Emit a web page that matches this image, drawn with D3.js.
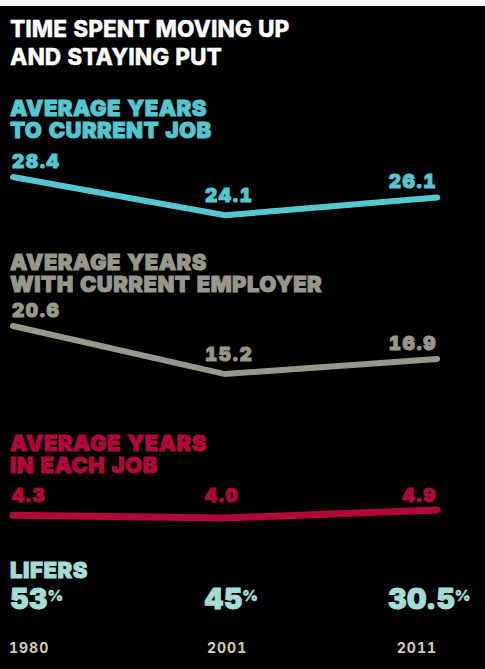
<!DOCTYPE html>
<html>
<head>
<meta charset="utf-8">
<script src="https://cdn.jsdelivr.net/npm/d3@7"></script>
<style>
  html, body { margin: 0; padding: 0; background: #fff; }
  svg { display: block; }
  text { font-family: "Inter", "DejaVu Sans", sans-serif; font-variant-numeric: tabular-nums; }
</style>
</head>
<body>
<div id="chart"></div>
<script>
// Data
const years = ["1980", "2001", "2011"];
const toCurrentJob = [28.4, 24.1, 26.1];
const withEmployer = [20.6, 15.2, 16.9];
const inEachJob = [4.3, 4.0, 4.9];
const lifers = [53, 45, 30.5];

const width = 485;
const height = 669;

const svg = d3.select("#chart")
  .append("svg")
  .attr("width", width)
  .attr("height", height);

// black panel under a thin white strip
svg.append("rect")
  .attr("x", 0).attr("y", 6)
  .attr("width", width).attr("height", height - 6)
  .attr("fill", "#000");

// title
["TIME SPENT MOVING UP", "AND STAYING PUT"].forEach((t, i) => {
  svg.append("text")
    .attr("x", 10).attr("y", 37 + i * 28)
    .attr("fill", "#fff")
    .attr("stroke", "#fff")
    .attr("stroke-width", 0.3)
    .attr("font-size", 22.7)
    .attr("font-weight", 800)
    .text(t);
});

const x = d3.scalePoint().domain(years).range([13, 437]);

// pixels per year, shared by the three line panels
const k = 8.9;

const panels = [
  { lines: ["AVERAGE YEARS", "TO CURRENT JOB"], values: toCurrentJob, color: "#55c6cf", head: 116, top: 177, row: null, sw: 6 },
  { lines: ["AVERAGE YEARS", "WITH CURRENT EMPLOYER"], values: withEmployer, color: "#97978b", head: 270, top: 326, row: null, sw: 6 },
  { lines: ["AVERAGE YEARS", "IN EACH JOB"], values: inEachJob, color: "#b0083a", head: 451, top: 510, row: 502, sw: 7 }
];

panels.forEach(p => {
  const max = d3.max(p.values);
  const y = d3.scaleLinear().domain([max, max - 10]).range([p.top, p.top + 10 * k]);

  const g = svg.append("g");

  p.lines.forEach((l, i) => {
    g.append("text")
      .attr("x", 10).attr("y", p.head + i * 22)
      .attr("fill", p.color)
      .attr("stroke", p.color)
      .attr("stroke-width", 0.9)
      .attr("font-size", 22)
      .attr("font-weight", 900)
      .attr("letter-spacing", 0.45)
      .text(l);
  });

  const line = d3.line()
    .x((d, i) => x(years[i]))
    .y(d => y(d));

  g.append("path")
    .datum(p.values)
    .attr("d", line)
    .attr("fill", "none")
    .attr("stroke", p.color)
    .attr("stroke-width", p.sw)
    .attr("stroke-linecap", "round")
    .attr("stroke-linejoin", "miter");

  g.selectAll(".val")
    .data(p.values)
    .enter()
    .append("text")
    .attr("class", "val")
    .attr("x", (d, i) => i === 0 ? x(years[i]) - 1 : i === 1 ? x(years[i]) - 20 : x(years[i]))
    .attr("y", (d, i) => p.row !== null ? p.row : y(d) - (i === 1 ? 13 : 9))
    .attr("text-anchor", (d, i) => i === 2 ? "end" : "start")
    .attr("fill", p.color)
    .attr("stroke", p.color)
    .attr("stroke-width", 0.9)
    .attr("font-size", 19)
    .attr("font-weight", 900)
    .attr("letter-spacing", 1.6)
    .text(d => d.toFixed(1));
});

// lifers
const liferColor = "#a6dcd6";
svg.append("text")
  .attr("x", 10).attr("y", 578)
  .attr("fill", liferColor)
  .attr("stroke", liferColor)
  .attr("stroke-width", 0.9)
  .attr("font-size", 22)
  .attr("font-weight", 900)
  .attr("letter-spacing", 0.6)
  .text("LIFERS");

const lx = [10, 204, 388];
const lt = svg.selectAll(".lifer")
  .data(lifers)
  .enter()
  .append("text")
  .attr("class", "lifer")
  .attr("x", (d, i) => lx[i])
  .attr("y", 609)
  .attr("fill", liferColor)
  .attr("stroke", liferColor)
  .attr("stroke-width", 1)
  .attr("font-size", 28)
  .attr("font-weight", 900)
  .style("font-variant-numeric", "normal");
lt.append("tspan").text(d => d);
lt.append("tspan")
  .attr("font-size", 15)
  .attr("stroke-width", 0.3)
  .attr("dy", -8)
  .text("%");

// year labels
svg.selectAll(".year")
  .data(years)
  .enter()
  .append("text")
  .attr("class", "year")
  .attr("x", (d, i) => i === 0 ? x(d) - 4 : i === 1 ? x(d) - 18 : x(d))
  .attr("y", 653)
  .attr("text-anchor", (d, i) => i === 2 ? "end" : "start")
  .attr("fill", "#d3cdbc")
  .attr("font-size", 14)
  .attr("font-weight", 700)
  .attr("letter-spacing", 1)
  .text(d => d);
</script>
</body>
</html>
